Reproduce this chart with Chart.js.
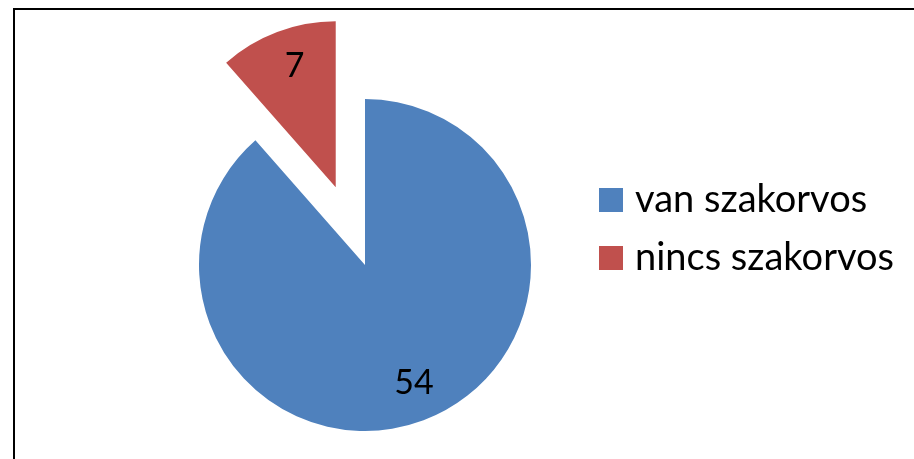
<!DOCTYPE html>
<html>
<head>
<meta charset="utf-8">
<script src="https://cdn.jsdelivr.net/npm/chart.js@4"></script>
<style>
  html, body { margin: 0; padding: 0; background: #fff; overflow: hidden; }
  #wrap { position: relative; width: 914px; height: 459px; }
  #frame { position: absolute; left: 13px; top: 8px; width: 1000px; height: 1000px; border: 2px solid #000; }
  #pie { position: absolute; left: 0; top: 0; }
</style>
</head>
<body>
<div id="wrap">
  <div id="frame"></div>
  <canvas id="pie" width="914" height="459"></canvas>
</div>
<script>
// data
var labels = ['van szakorvos', 'nincs szakorvos'];
var values = [54, 7];
var colors = ['#4F81BD', '#C0504D'];
var explode = [0, 83];   // px, red slice pulled out

var fontName = 'Lato';

// draw arcs ourselves so the pulled slice keeps its radius
var explodePlugin = {
  id: 'explode',
  beforeDatasetDraw: function(chart, args) {
    var ctx = chart.ctx;
    args.meta.data.forEach(function(arc, i) {
      var d = explode[i] || 0;
      var mid = (arc.startAngle + arc.endAngle) / 2;
      ctx.save();
      ctx.translate(Math.cos(mid) * d, Math.sin(mid) * d);
      arc.draw(ctx);
      ctx.restore();
    });
    return false;
  },
  afterDatasetsDraw: function(chart) {
    var ctx = chart.ctx;
    var meta = chart.getDatasetMeta(0);
    // value labels
    ctx.save();
    ctx.fillStyle = '#000';
    ctx.font = '34px ' + fontName;
    ctx.textAlign = 'center';
    ctx.textBaseline = 'middle';
    meta.data.forEach(function(arc, i) {
      var mid = (arc.startAngle + arc.endAngle) / 2;
      var d = (explode[i] || 0) + arc.outerRadius * 0.77;
      ctx.fillText(String(values[i]), arc.x + Math.cos(mid) * d + 4, arc.y + Math.sin(mid) * d - 2);
    });
    // legend
    ctx.textAlign = 'left';
    ctx.textBaseline = 'alphabetic';
    ctx.font = '38px ' + fontName;
    labels.forEach(function(lab, i) {
      var y = 212 + i * 58;
      ctx.fillStyle = colors[i];
      ctx.fillRect(599, y - 24, 24, 24);
      ctx.fillStyle = '#000';
      ctx.fillText(lab, 635, y);
    });
    ctx.restore();
  }
};

var ctx = document.getElementById('pie');
var myChart = new Chart(ctx, {
  type: 'pie',
  data: {
    labels: labels,
    datasets: [{
      data: values,
      backgroundColor: colors,
      borderWidth: 0,
      radius: 166
    }]
  },
  options: {
    responsive: false,
    animation: false,
    layout: { padding: { left: 199, right: 383, top: 99, bottom: 28 } },
    plugins: {
      legend: { display: false },
      tooltip: { enabled: false }
    }
  },
  plugins: [explodePlugin]
});
</script>
</body>
</html>
